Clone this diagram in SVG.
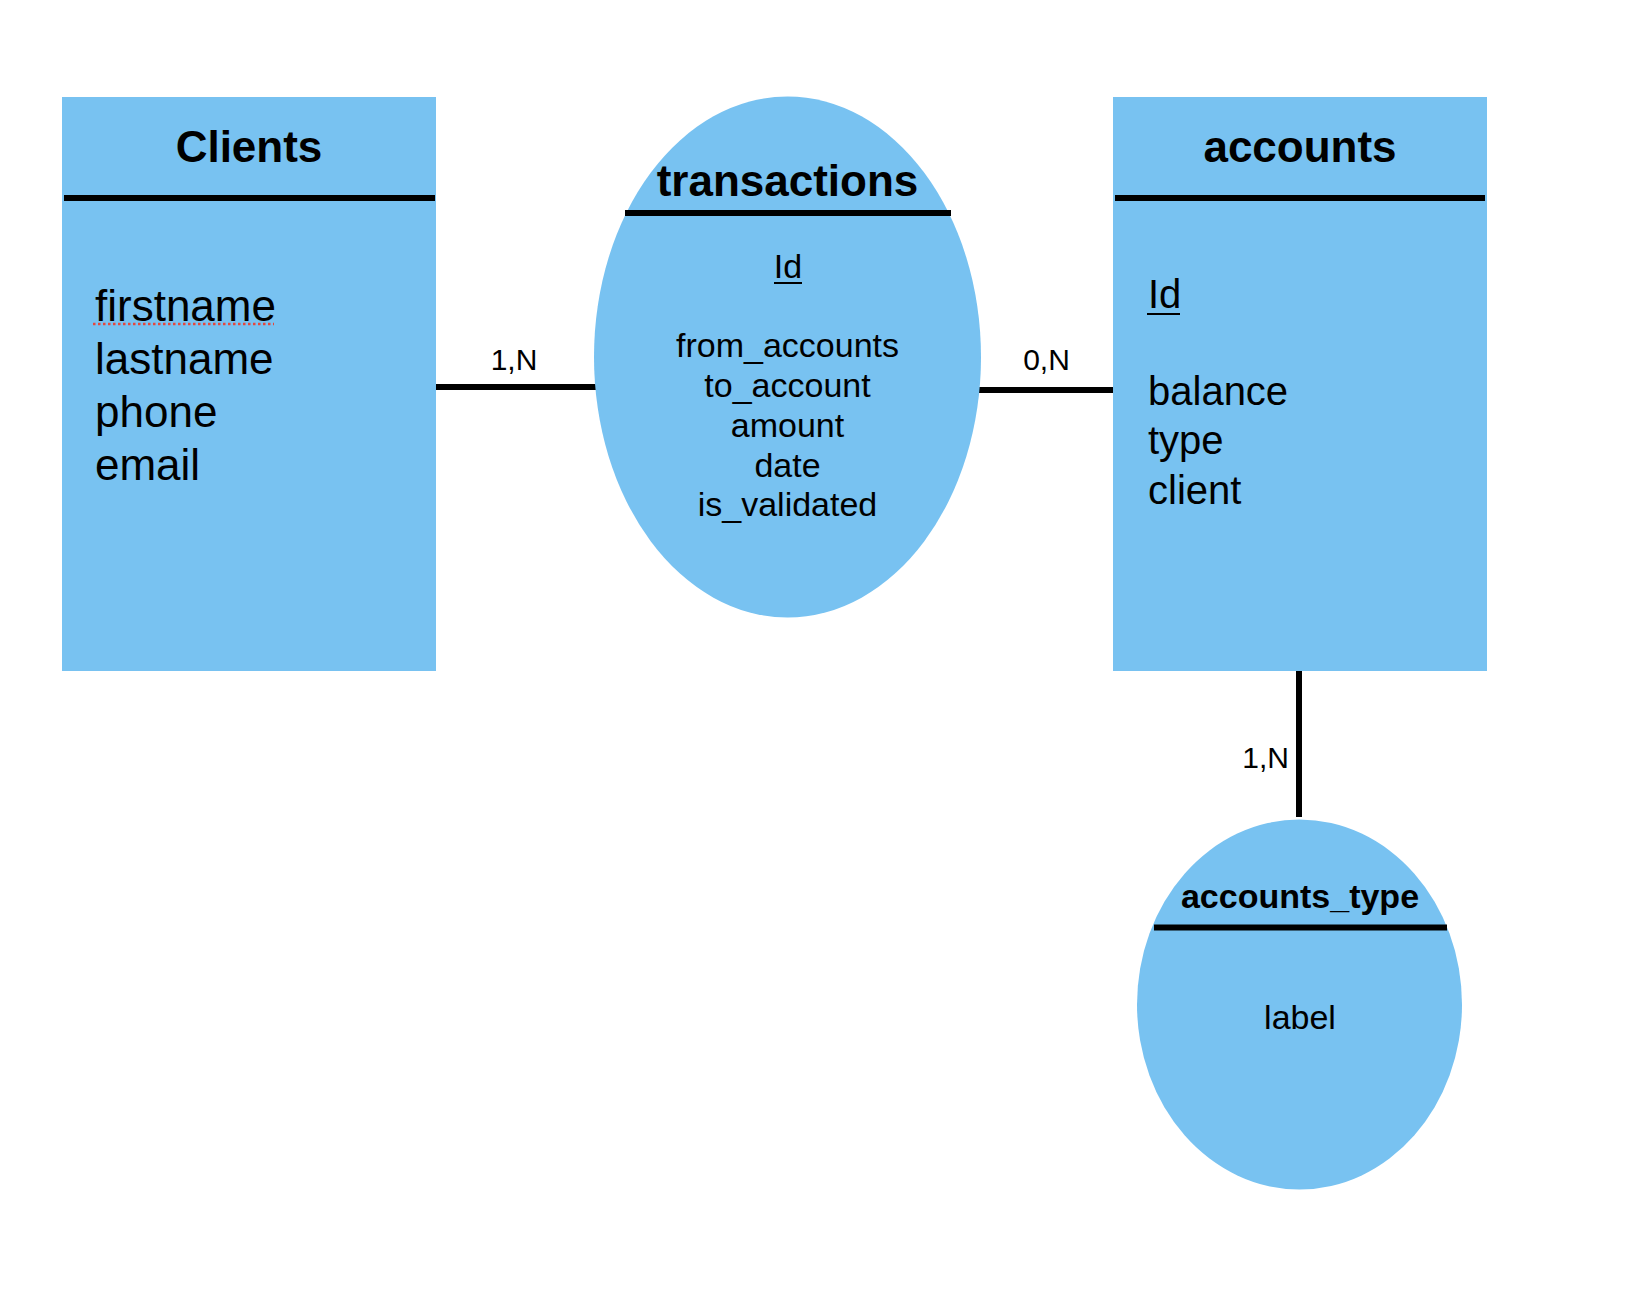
<svg xmlns="http://www.w3.org/2000/svg" width="1626" height="1312" viewBox="0 0 1626 1312">
<style>
.fill{fill:#78C2F1;stroke:none}
.div{stroke:#000;stroke-width:6;fill:none}
.conn{stroke:#000;stroke-width:6;fill:none}
.t{font-family:"Liberation Sans",Arial,sans-serif;fill:#000}
.title{font-weight:bold;font-size:44px;text-anchor:middle}
.attrL{font-size:44px}
.attrA{font-size:40px}
.attrT{font-size:34px;text-anchor:middle}
.card{font-size:30px}
.ul{stroke:#000;stroke-width:2;fill:none}
</style>
<rect width="1626" height="1312" fill="#fff"/>
<g id="connectors">
<line class="conn" x1="435" y1="387" x2="597" y2="387"/>
<line class="conn" x1="979" y1="390" x2="1114" y2="390"/>
<line class="conn" x1="1299" y1="670" x2="1299" y2="817"/>
<text class="t card" x="514" y="370" text-anchor="middle">1,N</text>
<text class="t card" x="1046.5" y="370" text-anchor="middle">0,N</text>
<text class="t card" x="1289" y="768" text-anchor="end">1,N</text>
</g>
<g id="clients">
<rect class="fill" x="62" y="97" width="374" height="574"/>
<line class="div" x1="64" y1="198" x2="435" y2="198"/>
<text class="t title" x="249" y="162">Clients</text>
<text class="t attrL" x="95" y="321">firstname</text>
<line x1="93" y1="324" x2="274" y2="324" stroke="#E5473C" stroke-width="2.5" stroke-dasharray="2.5 2.5"/>
<text class="t attrL" x="95" y="374">lastname</text>
<text class="t attrL" x="95" y="427">phone</text>
<text class="t attrL" x="95" y="480">email</text>
</g>
<g id="transactions">
<ellipse class="fill" cx="787.5" cy="357" rx="193.5" ry="260.5"/>
<line class="div" x1="625" y1="213" x2="951" y2="213"/>
<text class="t title" x="787.5" y="196">transactions</text>
<text class="t attrT" x="788" y="277.5">Id</text>
<line class="ul" x1="774" y1="283" x2="802" y2="283"/>
<text class="t attrT" x="787.5" y="357">from_accounts</text>
<text class="t attrT" x="787.5" y="397">to_account</text>
<text class="t attrT" x="787.5" y="437">amount</text>
<text class="t attrT" x="787.5" y="477">date</text>
<text class="t attrT" x="787.5" y="516">is_validated</text>
</g>
<g id="accounts">
<rect class="fill" x="1113" y="97" width="374" height="574"/>
<line class="div" x1="1115" y1="198" x2="1485" y2="198"/>
<text class="t title" x="1300" y="162">accounts</text>
<text class="t attrA" x="1148" y="308">Id</text>
<line class="ul" x1="1147" y1="314" x2="1180" y2="314"/>
<text class="t attrA" x="1148" y="405">balance</text>
<text class="t attrA" x="1148" y="454">type</text>
<text class="t attrA" x="1148" y="504">client</text>
</g>
<g id="accounts_type">
<ellipse class="fill" cx="1299.5" cy="1004.5" rx="162.5" ry="185"/>
<line class="div" x1="1154" y1="927.5" x2="1447" y2="927.5"/>
<text class="t" x="1300" y="908" font-size="34" font-weight="bold" text-anchor="middle">accounts_type</text>
<text class="t attrT" x="1300" y="1029">label</text>
</g>
</svg>
